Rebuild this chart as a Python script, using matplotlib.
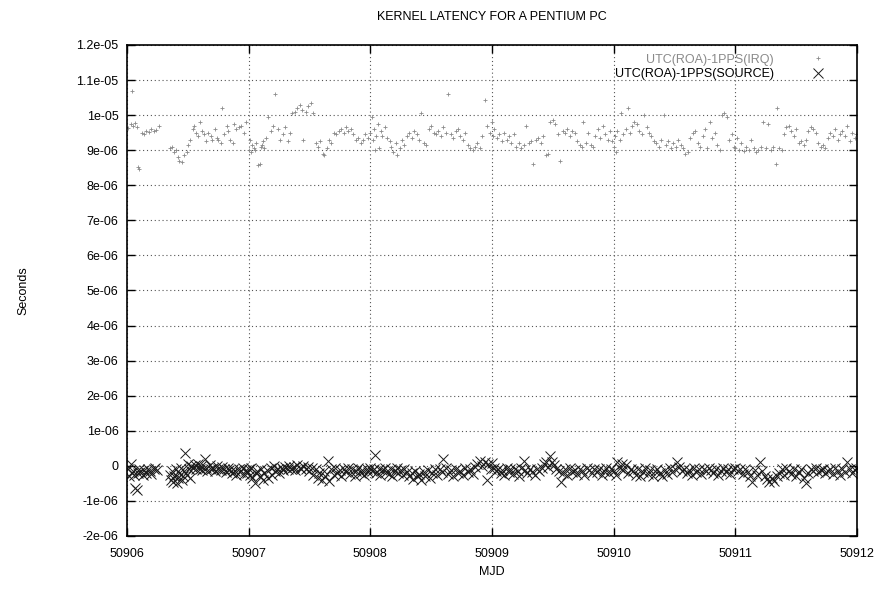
import matplotlib
matplotlib.use("Agg")
import matplotlib.pyplot as plt
from matplotlib.ticker import FuncFormatter, MultipleLocator
import numpy as np

plt.rcParams["font.family"] = ["Liberation Sans", "DejaVu Sans"]

MJD0 = 50906
US = 1e-6

# UTC(ROA)-1PPS(IRQ): day offset from MJD0, latency in microseconds
irq_day = [
    0.01, 0.03, 0.04, 0.05, 0.07, 0.08, 0.09, 0.10, 0.12, 0.14, 0.16, 0.18, 0.20, 0.22, 0.24, 0.26,
    0.35, 0.37, 0.39, 0.40, 0.42, 0.43, 0.45, 0.47, 0.49, 0.50, 0.52, 0.54, 0.55, 0.57, 0.58, 0.60,
    0.62, 0.63, 0.65, 0.67, 0.69, 0.70, 0.72, 0.74, 0.75, 0.77, 0.78, 0.80, 0.82, 0.83, 0.85, 0.87,
    0.88, 0.90, 0.92, 0.94, 0.96, 0.98,
    1.00, 1.01, 1.02, 1.03, 1.04, 1.05, 1.06, 1.08, 1.09, 1.10, 1.11, 1.12, 1.13, 1.14, 1.16, 1.18,
    1.20, 1.22, 1.24, 1.26, 1.28, 1.30, 1.32, 1.34, 1.36, 1.38, 1.40, 1.42, 1.44, 1.45, 1.47, 1.49,
    1.51, 1.53, 1.55, 1.57, 1.59, 1.61, 1.62, 1.64, 1.66, 1.68, 1.70, 1.72, 1.74, 1.76, 1.78, 1.80,
    1.82, 1.84, 1.86, 1.88, 1.90, 1.92, 1.94, 1.96, 1.98,
    2.00, 2.01, 2.02, 2.03, 2.04, 2.05, 2.06, 2.07, 2.09, 2.10, 2.12, 2.14, 2.16, 2.17, 2.19, 2.21,
    2.22, 2.24, 2.26, 2.28, 2.30, 2.32, 2.34, 2.36, 2.38, 2.40, 2.42, 2.44, 2.46, 2.48, 2.50, 2.52,
    2.54, 2.56, 2.58, 2.60, 2.62, 2.64, 2.66, 2.68, 2.70, 2.72, 2.74, 2.76, 2.78, 2.80, 2.82, 2.84,
    2.86, 2.88, 2.90, 2.92, 2.94, 2.96, 2.98,
    3.00, 3.01, 3.02, 3.04, 3.06, 3.08, 3.10, 3.12, 3.14, 3.16, 3.18, 3.20, 3.22, 3.24, 3.26, 3.28,
    3.30, 3.32, 3.34, 3.36, 3.38, 3.40, 3.42, 3.44, 3.46, 3.48, 3.50, 3.52, 3.54, 3.56, 3.58, 3.60,
    3.62, 3.64, 3.66, 3.68, 3.70, 3.72, 3.74, 3.75, 3.77, 3.79, 3.81, 3.83, 3.85, 3.87, 3.89, 3.91,
    3.93, 3.95, 3.97, 3.99,
    4.00, 4.01, 4.02, 4.03, 4.05, 4.06, 4.08, 4.10, 4.12, 4.13, 4.15, 4.17, 4.19, 4.21, 4.23, 4.25,
    4.27, 4.29, 4.31, 4.33, 4.35, 4.37, 4.39, 4.41, 4.43, 4.45, 4.47, 4.49, 4.51, 4.53, 4.55, 4.57,
    4.59, 4.61, 4.63, 4.65, 4.67, 4.69, 4.71, 4.73, 4.75, 4.77, 4.79, 4.81, 4.83, 4.85, 4.87, 4.89,
    4.91, 4.93, 4.95, 4.97, 4.99,
    5.00, 5.01, 5.03, 5.05, 5.07, 5.09, 5.11, 5.13, 5.15, 5.17, 5.19, 5.21, 5.23, 5.25, 5.27, 5.29,
    5.31, 5.33, 5.34, 5.36, 5.38, 5.40, 5.42, 5.44, 5.46, 5.48, 5.50, 5.52, 5.54, 5.56, 5.58, 5.60,
    5.62, 5.64, 5.66, 5.68, 5.70, 5.72, 5.74, 5.76, 5.78, 5.80, 5.82, 5.84, 5.86, 5.88, 5.90, 5.92,
    5.94, 5.96, 5.98, 5.995,
]
irq_us = [
    9.62, 9.75, 10.70, 9.70, 9.78, 9.66, 8.52, 8.45, 9.50, 9.45, 9.55, 9.52, 9.60, 9.55, 9.58, 9.70,
    9.05, 9.10, 8.95, 9.00, 8.80, 8.70, 8.65, 8.85, 8.95, 9.15, 9.30, 9.60, 9.70, 9.50, 9.40, 9.80,
    9.55, 9.45, 9.25, 9.50, 9.40, 9.30, 9.60, 9.35, 9.30, 9.20, 10.20, 9.45, 9.70, 9.55, 9.30, 9.20,
    9.75, 9.60, 9.65, 9.70, 9.50, 9.80,
    9.00, 9.30, 8.95, 9.15, 9.05, 9.00, 9.20, 8.58, 8.62, 9.10, 9.15, 9.25, 9.05, 9.35, 9.95, 9.55,
    9.70, 10.60, 9.60, 9.30, 9.45, 9.65, 9.25, 9.50, 10.05, 10.10, 10.20, 10.28, 10.15, 9.30, 10.10, 10.25,
    10.35, 10.05, 9.20, 9.10, 9.25, 8.90, 8.85, 9.05, 9.30, 9.20, 9.50, 9.45, 9.55, 9.60, 9.50, 9.65,
    9.55, 9.60, 9.45, 9.30, 9.35, 9.20, 9.30, 9.45, 9.35,
    9.50, 9.95, 9.30, 9.60, 9.00, 9.40, 9.75, 9.05, 9.55, 9.40, 9.65, 9.35, 9.25, 9.10, 8.95, 9.20,
    8.85, 9.05, 9.30, 9.15, 9.40, 9.50, 9.35, 9.55, 9.45, 9.30, 10.05, 9.20, 9.15, 9.60, 9.70, 9.50,
    9.45, 9.55, 9.40, 9.65, 9.50, 10.60, 9.45, 9.35, 9.55, 9.60, 9.40, 9.30, 9.50, 9.15, 9.05, 9.00,
    9.10, 9.20, 9.05, 9.40, 10.43, 9.70, 9.50,
    9.80, 9.40, 9.60, 9.35, 9.45, 9.25, 9.50, 9.30, 9.40, 9.20, 9.45, 9.10, 9.20, 9.05, 9.15, 9.70,
    9.20, 9.25, 8.60, 9.30, 9.35, 9.20, 9.40, 8.85, 8.88, 9.80, 9.85, 9.75, 9.45, 8.70, 9.55, 9.50,
    9.60, 9.40, 9.55, 9.50, 9.25, 9.15, 9.10, 9.80, 9.20, 9.50, 9.15, 9.10, 9.40, 9.60, 9.35, 9.70,
    9.45, 9.30, 9.55, 9.25,
    9.10, 9.40, 8.95, 9.55, 9.30, 10.05, 9.45, 9.60, 10.20, 9.50, 9.70, 9.80, 9.75, 9.55, 9.45, 10.00,
    9.65, 9.50, 9.40, 9.25, 9.20, 9.10, 9.30, 10.00, 9.15, 9.25, 9.05, 9.20, 9.10, 9.30, 9.15, 9.05,
    8.90, 8.95, 9.35, 9.50, 9.55, 9.20, 9.10, 9.40, 9.60, 9.05, 9.80, 9.35, 9.50, 9.15, 9.00, 10.00,
    10.05, 9.95, 9.30, 9.45, 9.10,
    9.05, 9.35, 9.00, 9.20, 8.98, 9.10, 9.00, 9.30, 9.05, 8.95, 9.00, 9.10, 9.80, 9.05, 9.75, 9.00,
    9.10, 8.62, 10.20, 9.05, 9.00, 9.45, 9.65, 9.70, 9.55, 9.40, 9.60, 9.20, 9.25, 9.15, 9.30, 9.55,
    9.65, 9.60, 9.50, 9.20, 9.10, 9.15, 9.05, 9.35, 9.50, 9.40, 9.60, 9.30, 9.45, 9.55, 9.40, 9.70,
    9.25, 9.50, 9.35, 9.45,
]

# UTC(ROA)-1PPS(SOURCE): day offset from MJD0, offset in microseconds
src_day = [
    0.01, 0.02, 0.03, 0.04, 0.05, 0.06, 0.07, 0.08, 0.09, 0.10, 0.11, 0.13, 0.14, 0.16, 0.17, 0.19,
    0.20, 0.22, 0.23, 0.25,
    0.35, 0.36, 0.37, 0.38, 0.39, 0.40, 0.41, 0.42, 0.43, 0.44, 0.45, 0.46, 0.47, 0.48, 0.49, 0.50,
    0.51, 0.52, 0.53, 0.54, 0.56, 0.57, 0.58, 0.60, 0.61, 0.62, 0.64, 0.65, 0.66, 0.68, 0.69, 0.71,
    0.72, 0.74, 0.75, 0.77, 0.78, 0.80, 0.81, 0.83, 0.84, 0.86, 0.87, 0.89, 0.90, 0.92, 0.93, 0.95,
    0.96, 0.98, 0.99,
    1.00, 1.01, 1.02, 1.03, 1.05, 1.06, 1.07, 1.09, 1.10, 1.12, 1.13, 1.15, 1.16, 1.18, 1.19, 1.21,
    1.22, 1.24, 1.25, 1.27, 1.28, 1.30, 1.32, 1.33, 1.35, 1.37, 1.38, 1.40, 1.42, 1.43, 1.45, 1.47,
    1.49, 1.50, 1.52, 1.53, 1.55, 1.57, 1.58, 1.60, 1.62, 1.63, 1.65, 1.66, 1.68, 1.70, 1.71, 1.73,
    1.75, 1.76, 1.78, 1.80, 1.82, 1.83, 1.85, 1.87, 1.88, 1.90, 1.92, 1.93, 1.95, 1.97, 1.98,
    2.00, 2.01, 2.03, 2.04, 2.05, 2.07, 2.08, 2.10, 2.12, 2.13, 2.15, 2.17, 2.18, 2.20, 2.22, 2.23,
    2.25, 2.27, 2.28, 2.30, 2.32, 2.34, 2.35, 2.37, 2.39, 2.40, 2.42, 2.44, 2.45, 2.47, 2.49, 2.51,
    2.53, 2.55, 2.57, 2.59, 2.60, 2.62, 2.64, 2.66, 2.68, 2.70, 2.72, 2.74, 2.76, 2.78, 2.80, 2.82,
    2.84, 2.86, 2.88, 2.90, 2.92, 2.94, 2.96, 2.97, 2.99,
    3.00, 3.02, 3.03, 3.05, 3.07, 3.08, 3.10, 3.12, 3.14, 3.15, 3.17, 3.19, 3.21, 3.22, 3.24, 3.26,
    3.27, 3.29, 3.31, 3.33, 3.35, 3.37, 3.39, 3.41, 3.43, 3.44, 3.46, 3.48, 3.49, 3.51, 3.53, 3.55,
    3.57, 3.58, 3.60, 3.62, 3.64, 3.66, 3.68, 3.70, 3.72, 3.74, 3.76, 3.78, 3.80, 3.82, 3.84, 3.86,
    3.88, 3.90, 3.92, 3.94, 3.96, 3.98,
    4.00, 4.02, 4.03, 4.05, 4.07, 4.08, 4.10, 4.12, 4.14, 4.16, 4.18, 4.20, 4.22, 4.24, 4.26, 4.28,
    4.30, 4.32, 4.34, 4.36, 4.38, 4.40, 4.42, 4.44, 4.46, 4.48, 4.50, 4.52, 4.54, 4.56, 4.58, 4.60,
    4.62, 4.64, 4.66, 4.68, 4.70, 4.72, 4.74, 4.76, 4.78, 4.80, 4.82, 4.84, 4.86, 4.88, 4.90, 4.92,
    4.94, 4.96, 4.98,
    5.00, 5.02, 5.04, 5.06, 5.08, 5.10, 5.12, 5.14, 5.16, 5.18, 5.20, 5.22, 5.24, 5.26, 5.28, 5.30,
    5.32, 5.34, 5.36, 5.38, 5.40, 5.42, 5.44, 5.46, 5.48, 5.50, 5.52, 5.54, 5.56, 5.58, 5.60, 5.62,
    5.64, 5.66, 5.68, 5.70, 5.72, 5.74, 5.76, 5.78, 5.80, 5.82, 5.84, 5.86, 5.88, 5.90, 5.92, 5.94,
    5.96, 5.98, 5.99,
]
src_us = [
    -0.10, -0.30, 0.05, -0.20, -0.15, -0.25, -0.63, -0.68, -0.20, -0.10, -0.18, -0.25, -0.12, -0.20, -0.08, -0.15,
    -0.22, -0.10, -0.05, -0.12,
    -0.25, -0.40, -0.15, -0.45, -0.30, -0.10, -0.48, -0.35, -0.20, -0.05, -0.40, -0.30, -0.15, 0.37, -0.25, 0.05,
    -0.10, -0.35, 0.00, -0.05, 0.02, -0.10, 0.05, -0.08, 0.00, -0.12, 0.20, -0.05, -0.15, 0.02, -0.10, -0.05,
    -0.15, 0.00, -0.08, -0.12, -0.03, -0.10, -0.18, -0.05, -0.12, -0.20, -0.08, -0.15, -0.25, -0.10, -0.18, -0.05,
    -0.22, -0.12, -0.20,
    -0.10, -0.25, -0.05, -0.35, -0.50, -0.20, -0.15, -0.30, -0.08, -0.40, -0.20, -0.12, -0.35, -0.05, -0.25, 0.00,
    -0.15, -0.08, -0.20, -0.05, -0.12, -0.02, -0.10, 0.00, -0.08, -0.03, -0.12, 0.02, -0.05, -0.10, 0.00, -0.08,
    -0.02, -0.15, -0.05, -0.25, -0.10, -0.35, -0.20, -0.40, -0.15, -0.30, 0.15, -0.42, -0.10, -0.25, -0.05, -0.20,
    -0.12, -0.28, -0.08, -0.18, -0.05, -0.22, -0.10, -0.30, -0.15, -0.05, -0.20, -0.12, -0.25, -0.08, -0.18,
    -0.05, -0.15, -0.10, 0.30, -0.20, -0.08, -0.25, -0.12, -0.05, -0.18, -0.22, -0.10, -0.28, -0.15, -0.05, -0.20,
    -0.12, -0.25, -0.08, -0.18, -0.30, -0.20, -0.38, -0.15, -0.30, -0.22, -0.40, -0.18, -0.28, -0.12, -0.35, -0.20,
    -0.10, -0.25, -0.08, -0.18, 0.20, -0.05, -0.22, -0.12, -0.28, -0.08, -0.20, -0.15, -0.25, -0.05, -0.18, -0.10,
    -0.22, -0.02, 0.05, 0.15, 0.00, 0.10, -0.40, 0.05, -0.10,
    0.08, -0.05, -0.15, -0.08, -0.20, -0.12, -0.25, -0.05, -0.18, -0.10, -0.22, -0.08, -0.15, -0.28, -0.05, 0.15,
    -0.12, -0.20, -0.08, -0.18, -0.25, -0.10, -0.15, -0.05, 0.05, 0.12, -0.02, 0.27, 0.10, 0.02, -0.08, -0.15,
    -0.45, -0.20, -0.10, -0.25, -0.05, -0.18, -0.12, -0.22, -0.08, -0.15, -0.25, -0.05, -0.12, -0.20, -0.10, -0.18,
    -0.08, -0.25, -0.15, -0.05, -0.20, -0.10,
    -0.15, -0.25, 0.10, -0.05, 0.05, -0.12, 0.02, -0.20, -0.08, -0.15, -0.25, -0.10, -0.30, -0.18, -0.05, -0.22,
    -0.12, -0.28, -0.15, -0.08, -0.20, -0.30, -0.12, -0.22, -0.05, -0.18, -0.10, 0.10, -0.02, -0.15, -0.08, -0.20,
    -0.12, -0.25, -0.05, -0.18, -0.10, -0.22, -0.08, -0.15, -0.05, -0.12, -0.20, -0.10, -0.25, -0.15, -0.05, -0.18,
    -0.10, -0.22, -0.08,
    -0.05, -0.15, -0.10, -0.22, -0.08, -0.18, -0.28, -0.45, -0.12, -0.25, 0.10, -0.15, -0.30, -0.38, -0.45, -0.35,
    -0.42, -0.30, -0.20, -0.10, -0.25, -0.05, -0.15, -0.22, -0.10, -0.28, -0.18, -0.08, -0.35, -0.50, -0.20, -0.10,
    -0.15, -0.05, -0.18, -0.12, -0.08, -0.20, -0.15, -0.10, -0.22, -0.05, -0.15, -0.25, -0.10, -0.18, 0.10, -0.08,
    -0.20, -0.12, -0.05,
]

TITLE = "KERNEL LATENCY FOR A PENTIUM PC"
IRQ_LABEL = "UTC(ROA)-1PPS(IRQ)"
SRC_LABEL = "UTC(ROA)-1PPS(SOURCE)"


def _g(v, _pos):
    return "%g" % round(v, 12)


fig = plt.figure(figsize=(8.83, 5.91), dpi=100)
ax = fig.add_axes([0.1438, 0.0931, 0.8268, 0.8308])

irq_x = MJD0 + np.asarray(irq_day)
src_x = MJD0 + np.asarray(src_day)
ax.plot(irq_x, np.asarray(irq_us) * US, "+", ms=3.5, mew=0.6, color="#8a8a8a", label=IRQ_LABEL)
ax.plot(src_x, np.asarray(src_us) * US, "x", ms=6.5, mew=0.7, color="#1a1a1a", label=SRC_LABEL)

ax.set_xlim(50906, 50912)
ax.set_ylim(-2e-6, 1.2e-5)
ax.xaxis.set_major_locator(MultipleLocator(1))
ax.yaxis.set_major_locator(MultipleLocator(1e-6))
ax.xaxis.set_major_formatter(FuncFormatter(lambda v, p: "%d" % round(v)))
ax.yaxis.set_major_formatter(FuncFormatter(_g))
ax.grid(True, color="#555555", linestyle=(0, (1, 2.5)), linewidth=0.8)
ax.tick_params(direction="in", length=6, width=1.0, top=True, right=True, labelsize=9, pad=6)
ax.tick_params(axis="x", pad=9)
for sp in ax.spines.values():
    sp.set_linewidth(1.2)

ax.set_title(TITLE, fontsize=9, pad=18)
ax.set_xlabel("MJD", fontsize=9, labelpad=4)
ax.set_ylabel("Seconds", fontsize=9, labelpad=34)

leg = ax.legend(loc="upper right", frameon=False, markerfirst=False, fontsize=9,
                handletextpad=2.5, borderaxespad=0.3, labelspacing=0.2,
                bbox_to_anchor=(0.975, 1.0))
leg.get_texts()[0].set_color("#8a8a8a")

fig.savefig("out.png", dpi=100)
